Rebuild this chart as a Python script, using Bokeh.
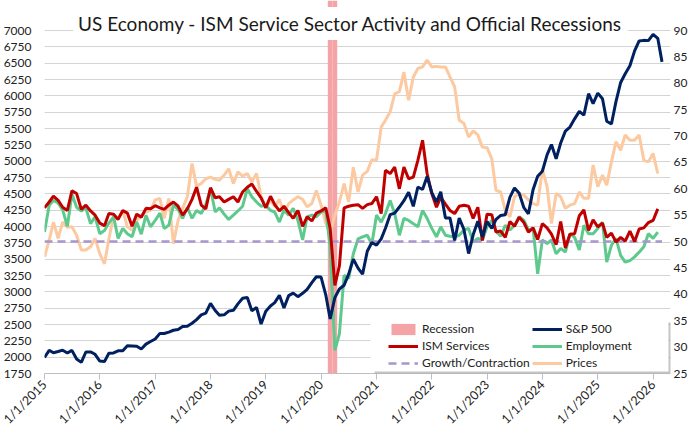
import math
import pandas as pd
from bokeh.plotting import figure
from bokeh.models import (Range1d, LinearAxis, FixedTicker, CustomJSTickFormatter,
                          Label, Legend, LegendItem, BoxAnnotation)
from bokeh.embed import file_html
from bokeh.resources import INLINE

# ---------------- data ----------------
START_MONTH = "2015-01-01"
RECESSION_MONTHS = ["2020-03-01", "2020-04-01"]
YEAR_TICKS = ["2015-01-01", "2016-01-01", "2017-01-01", "2018-01-01", "2019-01-01", "2020-01-01",
              "2021-01-01", "2022-01-01", "2023-01-01", "2024-01-01", "2025-01-01", "2026-01-01"]
LEFT_TICKS = list(range(1750, 7001, 250))
RIGHT_TICKS = list(range(25, 91, 5))
GROWTH_LEVEL = 50

sp500 = [1995, 2105, 2068, 2086, 2107, 2063, 2104, 1972, 1920, 2079, 2080, 2044,
         1940, 1932, 2060, 2065, 2097, 2099, 2174, 2171, 2168, 2126, 2199, 2239,
         2279, 2364, 2363, 2384, 2412, 2423, 2470, 2472, 2519, 2575, 2648, 2674,
         2824, 2714, 2641, 2648, 2705, 2718, 2816, 2902, 2914, 2712, 2760, 2507,
         2704, 2784, 2834, 2946, 2752, 2942, 2980, 2926, 2977, 3038, 3141, 3231,
         3226, 2954, 2585, 2912, 3044, 3100, 3271, 3500, 3363, 3270, 3622, 3756,
         3714, 3811, 3973, 4181, 4204, 4298, 4395, 4523, 4308, 4605, 4567, 4766,
         4516, 4374, 4530, 4132, 4132, 3785, 4130, 3955, 3586, 3872, 4080, 3840,
         4077, 3970, 4109, 4169, 4180, 4450, 4589, 4508, 4288, 4194, 4568, 4770,
         4846, 5096, 5254, 5036, 5278, 5460, 5522, 5648, 5762, 5705, 6032, 5882,
         6041, 5955, 5612, 5569, 5912, 6205, 6339, 6460, 6688, 6840, 6849, 6845,
         6940, 6880, 6520]

ism_services = [56.4, 57.5, 58.6, 57.8, 56.5, 55.9, 59.6, 59.1, 56.1, 56.9, 55.8, 55.0,
                53.5, 53.0, 55.3, 55.2, 54.2, 55.9, 55.4, 52.9, 55.2, 54.6, 56.3, 56.2,
                56.8, 56.4, 56.1, 56.9, 57.5, 56.7, 55.0, 56.2, 58.0, 60.3, 56.9, 56.2,
                60.2, 58.3, 58.5, 57.5, 58.0, 58.5, 57.5, 59.4, 60.3, 60.9, 59.5, 58.3,
                56.4, 58.6, 57.0, 55.8, 56.7, 55.5, 54.4, 55.9, 52.9, 54.7, 53.9, 55.4,
                55.8, 56.4, 52.5, 41.7, 45.4, 56.4, 56.7, 56.9, 57.0, 56.3, 57.0, 57.2,
                58.5, 55.3, 63.5, 62.9, 64.1, 60.0, 64.1, 61.9, 62.2, 65.4, 69.2, 62.9,
                59.1, 56.5, 58.4, 57.1, 55.9, 55.3, 56.7, 56.9, 56.7, 54.4, 56.5, 50.2,
                55.2, 55.1, 51.8, 52.0, 50.8, 53.8, 52.9, 54.6, 53.6, 51.8, 52.6, 50.4,
                53.4, 52.6, 51.4, 49.4, 53.8, 48.8, 51.4, 51.5, 54.9, 56.0, 52.1, 54.1,
                52.8, 53.5, 50.8, 51.6, 49.9, 50.8, 50.1, 52.0, 50.0, 52.4, 52.6, 53.6,
                54.0, 56.2]

employment = [51.8, 56.9, 57.8, 57.3, 56.0, 52.9, 59.0, 56.5, 55.8, 56.4, 53.4, 54.7,
              51.5, 52.1, 53.5, 54.7, 50.6, 52.5, 51.5, 50.9, 53.7, 51.4, 55.0, 52.8,
              54.0, 55.4, 52.5, 53.1, 56.9, 56.1, 54.4, 56.5, 54.4, 55.9, 55.3, 57.0,
              60.0, 55.6, 56.4, 55.2, 54.2, 55.0, 55.8, 56.7, 60.0, 58.5, 57.5, 56.7,
              56.9, 55.9, 55.6, 53.7, 56.0, 55.0, 56.3, 54.0, 50.3, 54.7, 55.0, 54.7,
              55.6, 55.9, 49.0, 29.4, 32.5, 43.6, 43.0, 47.7, 50.5, 50.9, 51.2, 49.5,
              55.0, 53.7, 55.3, 57.8, 55.3, 51.2, 54.4, 54.0, 53.4, 52.8, 55.9, 54.4,
              52.5, 50.9, 52.8, 51.2, 51.0, 50.9, 51.2, 52.2, 52.5, 49.9, 50.6, 50.3,
              52.8, 54.0, 52.0, 51.0, 53.1, 52.2, 53.1, 54.7, 54.0, 52.2, 52.5, 43.9,
              50.3, 49.6, 50.3, 47.7, 48.7, 48.0, 51.5, 50.8, 48.4, 53.1, 51.5, 51.5,
              52.5, 53.7, 46.1, 49.3, 50.6, 47.4, 46.1, 46.4, 47.1, 48.0, 49.0, 51.5,
              50.6, 51.8]

prices = [47.1, 50.3, 53.7, 50.6, 53.7, 52.7, 52.8, 51.2, 48.4, 48.4, 49.0, 50.6,
          47.7, 45.8, 50.5, 54.8, 54.4, 55.9, 52.8, 52.2, 54.0, 55.0, 55.6, 55.9,
          57.9, 58.2, 54.4, 58.2, 49.6, 54.0, 56.3, 58.5, 64.8, 60.5, 61.0, 61.9,
          62.2, 61.8, 61.6, 62.6, 63.8, 61.0, 63.2, 62.4, 62.9, 61.3, 62.9, 58.5,
          56.5, 57.9, 56.6, 58.0, 55.3, 57.2, 57.9, 58.5, 58.0, 56.6, 57.2, 59.7,
          56.9, 53.5, 51.5, 55.0, 57.5, 61.0, 57.5, 64.1, 59.4, 62.6, 63.3, 65.5,
          65.4, 71.7, 73.0, 74.6, 78.0, 78.4, 82.1, 76.8, 81.2, 82.8, 83.1, 84.4,
          83.1, 83.2, 83.1, 83.1, 81.2, 79.3, 73.0, 72.4, 69.8, 71.0, 70.2, 67.9,
          67.8, 65.7, 59.7, 59.4, 55.9, 54.7, 58.5, 59.1, 58.8, 57.9, 57.2, 56.9,
          63.8, 60.4, 53.4, 59.1, 58.5, 56.3, 56.9, 57.2, 59.4, 58.2, 58.2, 64.5,
          60.4, 62.6, 60.7, 65.1, 68.9, 67.3, 70.2, 69.2, 69.2, 70.2, 65.4, 65.1,
          66.7, 62.9]

# ---------------- styling / layout ----------------
FONT = "Lato"
TXT = "#222222"
X_END = "2026-04-26"
W, H = 698, 434
FL, FR, FB = 44, 28, 61            # frame borders; the frame reaches the top edge
FH = H - FB                        # frame height (px)
GRID_PX = 343.0                    # px between lowest and highest tick

sp_dates = pd.date_range(START_MONTH, periods=len(sp500), freq="MS")
ism_dates = pd.date_range(START_MONTH, periods=len(ism_services), freq="MS")
rec_dates = pd.to_datetime(RECESSION_MONTHS)

def ms(d):
    return pd.Timestamp(d).value / 1e6

y_top = LEFT_TICKS[0] + FH * (LEFT_TICKS[-1] - LEFT_TICKS[0]) / GRID_PX
y2_top = RIGHT_TICKS[0] + FH * (RIGHT_TICKS[-1] - RIGHT_TICKS[0]) / GRID_PX

p = figure(width=W, height=H, x_axis_type="datetime",
           x_range=Range1d(ms(START_MONTH), ms(X_END)),
           y_range=Range1d(LEFT_TICKS[0], y_top),
           output_backend="svg", toolbar_location=None,
           min_border_left=FL, min_border_right=FR, min_border_top=0, min_border_bottom=FB,
           background_fill_color="white", border_fill_color="white")
p.outline_line_color = None
p.extra_y_ranges = {"ism": Range1d(RIGHT_TICKS[0], y2_top)}

# x axis
xa = p.xaxis[0]
xa.ticker = FixedTicker(ticks=[ms(d) for d in YEAR_TICKS])
xa.formatter = CustomJSTickFormatter(code="""
const d = new Date(tick);
return (d.getUTCMonth()+1) + '/' + d.getUTCDate() + '/' + d.getUTCFullYear();
""")
xa.major_label_orientation = math.pi / 4
xa.minor_tick_line_color = None
xa.axis_line_color = "#bfbfbf"
xa.major_tick_line_color = "#bfbfbf"
xa.major_tick_out = 6
xa.major_tick_in = 0
xa.major_label_standoff = 3
xa.major_label_text_font = FONT
xa.major_label_text_font_size = "12.5px"
xa.major_label_text_color = TXT

ya = p.yaxis[0]
ya.ticker = FixedTicker(ticks=LEFT_TICKS)
ya.axis_line_color = None
ya.major_tick_line_color = None
ya.minor_tick_line_color = None
ya.major_tick_out = 0
ya.major_tick_in = 0
ya.major_label_standoff = 13
ya.major_label_text_font = FONT
ya.major_label_text_font_size = "12px"
ya.major_label_text_color = TXT

ra = LinearAxis(y_range_name="ism", ticker=FixedTicker(ticks=RIGHT_TICKS))
ra.axis_line_color = None
ra.major_tick_line_color = None
ra.minor_tick_line_color = None
ra.major_tick_out = 0
ra.major_tick_in = 0
ra.major_label_standoff = 3
ra.major_label_text_font = FONT
ra.major_label_text_font_size = "12px"
ra.major_label_text_color = TXT
p.add_layout(ra, "right")

p.xgrid.grid_line_color = None
p.ygrid.grid_line_color = "#d4d4d4"

# glyphs
month_ms = 31 * 24 * 3600 * 1000
r_rec = p.vbar(x=rec_dates, width=month_ms, top=y_top, bottom=LEFT_TICKS[0],
               fill_color="#f4a3a6", line_color=None)
r_pr = p.line(ism_dates, prices, y_range_name="ism", line_color="#fcc9a0", line_width=3)
r_emp = p.line(ism_dates, employment, y_range_name="ism", line_color="#5ec98c", line_width=3)
r_gc = p.line([ism_dates[0], sp_dates[-1]], [GROWTH_LEVEL, GROWTH_LEVEL], y_range_name="ism",
              line_color="#a896cc", line_width=2.5, line_dash="8 5")
r_ism = p.line(ism_dates, ism_services, y_range_name="ism", line_color="#c00000", line_width=3)
r_sp = p.line(sp_dates, sp500, line_color="#002060", line_width=3)

# title box (with shadow)
TITLE = "US Economy - ISM Service Sector Activity and Official Recessions"
ty = FH - 23
tx = 306
p.add_layout(Label(x=tx + 3, y=ty - 3, x_units="screen", y_units="screen", text=TITLE,
                   text_align="center", text_baseline="middle", text_alpha=0,
                   text_font=FONT, text_font_size="19px",
                   background_fill_color="#8c8c8c", background_fill_alpha=0.5, padding=5))
p.add_layout(Label(x=tx, y=ty, x_units="screen", y_units="screen", text=TITLE,
                   text_align="center", text_baseline="middle", text_color="#1a1a1a",
                   text_font=FONT, text_font_size="19px",
                   background_fill_color="white", padding=5))

# legend box + shadow
p.add_layout(BoxAnnotation(left=330, right=628, bottom=0, top=51,
                           left_units="screen", right_units="screen",
                           bottom_units="screen", top_units="screen",
                           fill_color="#8c8c8c", fill_alpha=0.5, line_color=None))
p.add_layout(BoxAnnotation(left=326, right=624, bottom=2, top=55,
                           left_units="screen", right_units="screen",
                           bottom_units="screen", top_units="screen",
                           fill_color="white", fill_alpha=1.0, line_color=None))

legend = Legend(items=[LegendItem(label="Recession", renderers=[r_rec]),
                       LegendItem(label="ISM Services", renderers=[r_ism]),
                       LegendItem(label="Growth/Contraction", renderers=[r_gc]),
                       LegendItem(label="S&P 500", renderers=[r_sp]),
                       LegendItem(label="Employment", renderers=[r_emp]),
                       LegendItem(label="Prices", renderers=[r_pr])],
                location=(344, 3), ncols=2,
                glyph_width=30, glyph_height=14, label_height=15, spacing=2,
                label_standoff=4, padding=2, margin=0,
                label_text_font=FONT, label_text_font_size="12px", label_text_color=TXT,
                background_fill_alpha=0, border_line_color=None)
p.add_layout(legend)

open("out.html", "w").write(file_html(p, INLINE))
